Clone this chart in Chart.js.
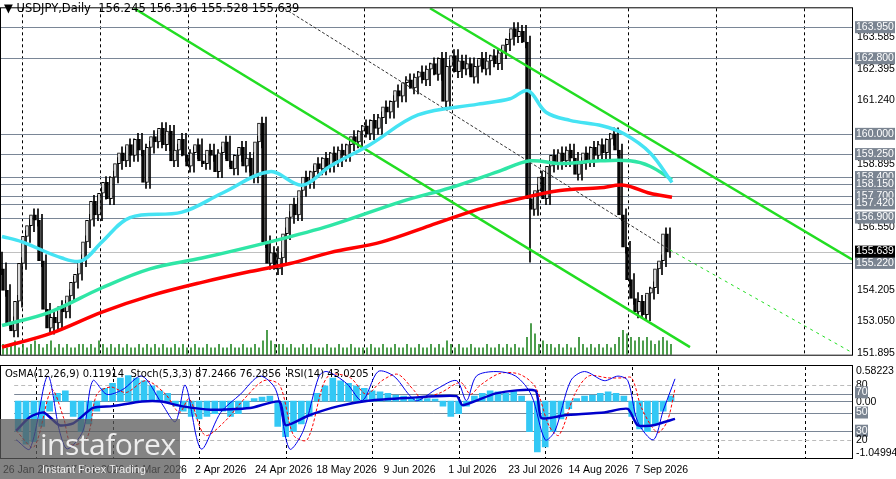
<!DOCTYPE html>
<html>
<head>
<meta charset="utf-8">
<script src="https://cdn.jsdelivr.net/npm/chart.js@4/dist/chart.umd.min.js"></script>
<style>
  body { margin: 0; background: #fff; width: 896px; height: 479px; overflow: hidden; position: relative; font-family: "Liberation Sans", sans-serif; }
  canvas { position: absolute; left: 0; }
  #main { top: 0; }
  #sub { top: 363px; }
  #head { position: absolute; left: 4px; top: 1px; font-size: 11.5px; color: #000; font-family: "DejaVu Sans", sans-serif; }
  #sublbl { position: absolute; left: 5px; top: 368px; font-size: 10px; color: #000; font-family: "DejaVu Sans", sans-serif; }
  #wm { position: absolute; left: 0; top: 419px; width: 180px; height: 60px; background: rgba(90,90,90,0.75); color: #eee; }
  #wm .a { position: absolute; left: 40px; top: 4px; font-size: 30px; font-family: "Open Sans", sans-serif; letter-spacing: -0.5px; }
  #wm .b { position: absolute; left: 42px; top: 44px; font-size: 11px; }
</style>
</head>
<body>
<canvas id="main" width="896" height="363"></canvas>
<canvas id="sub" width="896" height="116"></canvas>
<div id="head">&#9660; USDJPY,Daily &nbsp;156.245 156.316 155.528 155.639</div>
<div id="sublbl">OsMA(12,26,9) 0.11914 &nbsp;Stoch(5,3,3) 87.2466 76.2856 &nbsp;RSI(14) 43.0205</div>
<div id="wm"><span class="a">instaforex</span><span class="b">Instant Forex Trading</span></div>
<script>
// closes, one per daily bar
const closes = [
  155.0,154.2,153.0,152.7,153.8,155.2,156.2,156.6,157.0,156.8,
  155.3,153.5,152.8,153.2,153.0,153.6,153.4,154.0,154.5,154.8,
  155.3,156.0,156.8,157.5,157.0,157.8,158.2,157.6,158.4,158.9,
  159.3,159.0,159.6,159.2,159.8,159.4,158.2,159.5,159.9,159.7,
  160.2,159.6,160.1,159.0,159.4,159.8,159.2,158.8,159.3,159.6,
  159.0,158.9,159.4,159.2,158.6,159.3,159.7,159.0,158.7,159.2,
  159.5,158.8,159.1,158.4,159.7,160.4,156.0,155.2,155.6,155.0,
  155.4,156.3,156.9,157.4,157.0,157.9,158.4,158.2,158.6,158.9,
  158.7,159.1,158.8,159.3,159.0,159.4,159.2,159.6,159.9,159.7,
  160.1,160.3,160.0,160.5,160.2,160.6,161.0,160.8,161.2,161.6,
  161.4,161.9,162.0,161.7,162.1,162.3,162.0,162.4,162.6,162.2,
  162.8,161.2,162.5,162.9,162.3,162.7,162.4,162.6,162.1,162.5,
  162.8,162.4,162.7,162.9,162.6,163.0,163.3,163.5,163.9,163.6,
  163.8,163.4,157.6,157.2,157.9,158.4,157.6,158.8,159.2,158.9,
  159.3,159.0,159.4,159.1,158.5,158.9,159.3,159.0,159.5,159.2,
  159.6,159.3,159.8,160.0,159.4,157.0,155.8,154.6,153.9,153.4,
  153.8,153.3,154.1,154.3,155.0,155.3,156.3,155.64
];
const firstOpen = 155.4;
const volumes = [
  3,2,3,4,2,3,2,3,4,3, 2,3,4,2,3,2,3,2,2,3, 3,2,3,2,4,3,2,3,2,3,
  2,3,2,2,3,2,3,2,3,2, 3,2,2,3,2,3,2,2,3,2, 2,3,2,2,3,2,2,3,2,2,
  3,2,2,3,2,4,7,4,3,3, 3,2,3,2,2,3,2,3,2,2, 2,3,2,2,3,2,2,3,2,2,
  2,2,3,2,2,3,2,2,3,2, 2,3,2,2,3,2,2,3,2,3, 2,4,3,2,3,2,2,3,2,2,
  2,3,2,2,3,2,3,2,3,2, 2,5,9,6,3,4,3,3,2,3, 2,3,2,2,5,3,2,3,2,3,
  2,3,2,3,5,7,6,5,4,5, 4,5,4,3,4,5,4,3
];
// moving averages as [bar index, price]
const maCyan = [[0,156.2],[5,156.0],[15,155.4],[20,155.3],[25,156.0],[32,156.9],[45,157.1],[55,157.8],[67,158.6],[75,158.1],[82,158.8],[92,159.6],[104,160.7],[119,161.1],[127,161.3],[131.5,161.6],[136,160.8],[142,160.5],[150,160.3],[155.5,160.0],[162,159.3],[167.5,158.2]];
const maGreen = [[0,152.9],[12,153.4],[25,154.3],[37,155.0],[50,155.4],[67,156.0],[82,156.6],[100,157.5],[112,158.0],[124,158.6],[132,159.0],[139.5,158.9],[149.5,159.0],[157,159.0],[162,158.8],[167.5,158.3]];
const maRed = [[0,152.1],[12,152.6],[25,153.4],[37,154.0],[50,154.5],[62,154.9],[72,155.2],[82,155.6],[95,156.0],[107,156.6],[119,157.2],[129.5,157.6],[139.5,157.9],[149.5,158.0],[155.5,158.1],[162,157.8],[167.5,157.65]];
// trend lines as [bar index, price] endpoints
const trendA = [[33,164.65],[172,152.1]];
const trendB = [[107,164.65],[212.5,155.35]];
const trendDash = [[70.5,164.65],[167,155.7]];
const trendDot = [[167,155.7],[212.5,151.9]];
const levels = [163.95,162.8,160.0,159.25,158.4,158.15,157.7,157.42,156.9,155.22];
const lastPrice = 155.639;
const priceTicks = [163.585,162.395,161.24,158.895,156.55,154.205,153.05,151.895];
const gridBars = [5,24.5,46.5,68.5,90.5,112.5,134.5,156.5,178.5,200.5];
const dateTicks = [4,20,36,52,68,84,100,116,132,148,164];
const dateLabels = ["26 Jan 2026","17 Feb 2026","11 Mar 2026","2 Apr 2026","24 Apr 2026","18 May 2026","9 Jun 2026","1 Jul 2026","23 Jul 2026","14 Aug 2026","7 Sep 2026"];
// lower panel: OsMA every 2 bars, stoch and RSI as [bar index, value]
const osma = [
  -0.6,-0.85,-0.8,-0.5,-0.2,0.15,0.2,-0.3,-0.6,-0.45,
  -0.2,0.25,0.35,0.45,0.5,0.45,0.4,0.3,0.2,0.15,
  -0.1,-0.2,-0.3,-0.35,-0.3,-0.25,-0.2,-0.3,-0.25,-0.15,
  0.05,0.08,0.1,-0.5,-0.7,-0.6,-0.45,-0.3,0.15,0.3,
  0.45,0.4,0.35,0.3,0.25,0.2,0.18,0.15,0.12,0.1,
  0.08,0.06,0.05,0.04,-0.1,-0.3,-0.25,-0.1,0.1,0.15,
  0.2,0.18,0.15,0.2,0.1,-0.6,-1.0,-0.9,-0.6,-0.35,
  -0.15,0.05,0.1,0.12,0.15,0.18,0.15,0.1,-0.3,-0.55,
  -0.6,-0.45,-0.2,0.1
];
const stochMain = [[0,20],[3.5,10],[8,90],[11,30],[13,10],[17,30],[19.5,85],[23,70],[27,75],[32,90],[37,60],[40.5,40],[43,80],[47,10],[52,50],[57,70],[62,90],[66,75],[69.5,10],[73,30],[77,90],[79,95],[84,82],[88,63],[92,95],[96,90],[100,69],[102,63],[107,76],[112,85],[114.5,63],[117,90],[122,95],[127,90],[131,69],[134.5,20],[137,30],[141,85],[144.5,95],[149.5,85],[153,90],[155.5,85],[158,40],[162,20],[164.5,52],[167.5,87]];
const stochSig = [[0,30],[4.5,12],[9,75],[12,45],[14,15],[18,22],[20.5,70],[24,78],[28,72],[33,85],[38,70],[41.5,50],[44,65],[48,25],[53,40],[58,65],[63,85],[67,80],[70.5,25],[74,20],[78,80],[80,92],[85,88],[89,70],[93,85],[97,92],[101,75],[103,66],[108,72],[113,83],[115.5,70],[118,80],[123,93],[128,92],[132,78],[135.5,35],[138,25],[142,70],[145.5,90],[150.5,88],[154,88],[156.5,88],[159,55],[163,28],[165.5,40],[167.5,76]];
const rsi = [[0,30],[3.5,45],[7,50],[11,36],[14.5,38],[19.5,55],[24.5,57],[32,62],[37,62],[42,57],[49.5,53],[59.5,55],[67,62],[68.5,36],[74.5,47],[82,57],[89.5,63],[99.5,66],[112,68],[113.5,58],[122,71],[132,74],[133.5,44],[139.5,47],[149.5,50],[155.5,54],[158,36],[162,36],[167.5,43]];

const axisFont = { family: "Liberation Sans", size: 10.5 };
const toXY = a => a.map(p => ({ x: p[0], y: p[1] }));

// candles: open is previous close
const bodies = [], wicks = [], bodyBg = [];
closes.forEach((c, i) => {
  const o = i === 0 ? firstOpen : closes[i - 1];
  bodies.push({ x: i, y: [o, c] });
  wicks.push({ x: i, y: [Math.min(o, c) - 0.22, Math.max(o, c) + 0.22] });
  bodyBg.push(c >= o ? "#ffffff" : "#000000");
});
// long lower wick on the crash day
wicks[132].y[0] = 155.25;

const vlines = {
  id: "vlines",
  beforeDatasetsDraw(ch) {
    const { ctx, chartArea: a, scales: { x } } = ch;
    ctx.save();
    ctx.strokeStyle = "#000"; ctx.lineWidth = 1; ctx.setLineDash([3, 3]);
    gridBars.forEach(b => {
      const px = Math.round(x.getPixelForValue(b)) + 0.5;
      ctx.beginPath(); ctx.moveTo(px, a.top); ctx.lineTo(px, a.bottom); ctx.stroke();
    });
    ctx.restore();
  }
};

const priceLevels = {
  id: "priceLevels",
  beforeDatasetsDraw(ch) {
    const { ctx, chartArea: a, scales: { y } } = ch;
    ctx.save();
    ctx.lineWidth = 1;
    levels.forEach(v => {
      const py = Math.round(y.getPixelForValue(v)) + 0.5;
      ctx.strokeStyle = "#7a8696";
      ctx.beginPath(); ctx.moveTo(a.left, py); ctx.lineTo(a.right, py); ctx.stroke();
    });
    const py = Math.round(y.getPixelForValue(lastPrice)) + 0.5;
    ctx.strokeStyle = "#c0c0c0";
    ctx.beginPath(); ctx.moveTo(a.left, py); ctx.lineTo(a.right, py); ctx.stroke();
    ctx.restore();
  },
  afterDraw(ch) {
    const { ctx, chartArea: a, scales: { y } } = ch;
    ctx.save();
    ctx.font = "10.5px 'Liberation Sans'";
    ctx.textBaseline = "middle";
    const box = (v, bg) => {
      const py = y.getPixelForValue(v);
      ctx.fillStyle = bg;
      ctx.fillRect(a.right + 3, py - 6, 40, 12);
      ctx.fillStyle = "#fff";
      ctx.fillText(v.toFixed(3), a.right + 4, py);
    };
    levels.forEach(v => box(v, "#7a8491"));
    box(lastPrice, "#000");
    ctx.strokeStyle = "#000";
    ctx.strokeRect(0.5, a.top - 0.5, a.right, a.bottom - a.top + 1);
    ctx.restore();
  }
};

const lineDs = (data, color, w, extra) => Object.assign({
  type: "line", data: toXY(data), borderColor: color, borderWidth: w,
  pointRadius: 0, tension: 0.35, yAxisID: "y", order: 1
}, extra || {});

new Chart(document.getElementById("main"), {
  type: "bar",
  data: {
    datasets: [
      lineDs(maCyan, "#45e3f3", 3.5),
      lineDs(maGreen, "#2fe6a6", 3.5),
      lineDs(maRed, "#ff0000", 3.5),
      lineDs(trendA, "#22dd22", 2.5, { tension: 0 }),
      lineDs(trendB, "#22dd22", 2.5, { tension: 0 }),
      lineDs(trendDash, "#333", 1, { tension: 0, borderDash: [3, 2] }),
      lineDs(trendDot, "#22dd22", 1, { tension: 0, borderDash: [3, 4] }),
      { type: "bar", data: volumes.map((v, i) => ({ x: i, y: v })), backgroundColor: "#2a8a2a", barThickness: 1, yAxisID: "vol", order: 5 },
      { type: "bar", data: wicks, backgroundColor: "#000", barThickness: 1, yAxisID: "y", order: 3 },
      { type: "bar", data: bodies, backgroundColor: bodyBg, borderColor: "#000", borderWidth: 1, borderSkipped: false, barThickness: 3, yAxisID: "y", order: 2 }
    ]
  },
  options: {
    animation: false, responsive: false, maintainAspectRatio: false,
    layout: { padding: { top: 1, bottom: 0, left: 0, right: 0 } },
    plugins: { legend: { display: false }, tooltip: { enabled: false } },
    scales: {
      x: { type: "linear", min: -0.5, max: 212.5, display: false, offset: false },
      y: {
        position: "right", min: 151.82, max: 164.65,
        afterFit: s => { s.width = 44; },
        afterBuildTicks: s => { s.ticks = priceTicks.map(v => ({ value: v })); },
        ticks: { color: "#000", font: axisFont, padding: 2, callback: v => v.toFixed(3) },
        grid: { display: false, drawTicks: true, tickLength: 3 },
        border: { color: "#000" }
      },
      vol: { display: false, min: 0, max: 100 }
    }
  },
  plugins: [vlines, priceLevels]
});

const subLines = {
  id: "subLines",
  beforeDatasetsDraw(ch) {
    const { ctx, chartArea: a, scales: { y } } = ch;
    ctx.save();
    ctx.lineWidth = 1;
    [80, 20].forEach(v => {
      const py = Math.round(y.getPixelForValue(v)) + 0.5;
      ctx.strokeStyle = "#bbb"; ctx.setLineDash([4, 3]);
      ctx.beginPath(); ctx.moveTo(a.left, py); ctx.lineTo(a.right, py); ctx.stroke();
    });
    ctx.setLineDash([]);
    [70, 50, 30].forEach(v => {
      const py = Math.round(y.getPixelForValue(v)) + 0.5;
      ctx.strokeStyle = "#7a8696";
      ctx.beginPath(); ctx.moveTo(a.left, py); ctx.lineTo(a.right, py); ctx.stroke();
    });
    const pz = Math.round(ch.scales.os.getPixelForValue(0)) + 0.5;
    ctx.strokeStyle = "#7a8696";
    ctx.beginPath(); ctx.moveTo(a.left, pz); ctx.lineTo(a.right, pz); ctx.stroke();
    ctx.restore();
  },
  afterDraw(ch) {
    const { ctx, chartArea: a, scales: { y, os } } = ch;
    ctx.save();
    ctx.font = "10.5px 'Liberation Sans'";
    ctx.textBaseline = "middle";
    const txt = (t, py, bg) => {
      if (bg) { ctx.fillStyle = bg; ctx.fillRect(a.right + 3, py - 6, 13, 12); ctx.fillStyle = "#fff"; }
      else ctx.fillStyle = "#000";
      ctx.fillText(t, a.right + 4, py);
    };
    txt("0.58223", a.top + 4);
    txt("80", y.getPixelForValue(80));
    txt("0.00", os.getPixelForValue(0) + 1);
    txt("70", y.getPixelForValue(70) - 2, "#7a8491");
    txt("50", y.getPixelForValue(50), "#7a8491");
    txt("30", y.getPixelForValue(30), "#7a8491");
    txt("20", y.getPixelForValue(20));
    txt("-1.04994", a.bottom - 5);
    ctx.strokeStyle = "#000";
    ctx.strokeRect(0.5, a.top - 1.5, a.right, a.bottom - a.top + 2);
    ctx.restore();
  }
};

new Chart(document.getElementById("sub"), {
  type: "bar",
  data: {
    datasets: [
      { type: "bar", data: osma.map((v, g) => ({ x: g * 2 + 0.5, y: v })), backgroundColor: "#33c8f5", barThickness: 6, yAxisID: "os", order: 4 },
      { type: "line", data: toXY(stochSig), borderColor: "#ff0000", borderWidth: 1, borderDash: [3, 2], pointRadius: 0, tension: 0.3, yAxisID: "y", order: 2 },
      { type: "line", data: toXY(stochMain), borderColor: "#0000ee", borderWidth: 1, pointRadius: 0, tension: 0.3, yAxisID: "y", order: 1 },
      { type: "line", data: toXY(rsi), borderColor: "#0000cc", borderWidth: 2.5, pointRadius: 0, tension: 0.2, yAxisID: "y", order: 0 }
    ]
  },
  options: {
    animation: false, responsive: false, maintainAspectRatio: false,
    layout: { padding: { top: 4, bottom: 0, left: 0, right: 0 } },
    plugins: { legend: { display: false }, tooltip: { enabled: false } },
    scales: {
      x: {
        type: "linear", min: -0.5, max: 212.5, offset: false,
        afterBuildTicks: s => { s.ticks = dateTicks.map(v => ({ value: v })); },
        afterFit: s => { s.height = 21; },
        ticks: { color: "#000", font: axisFont, maxRotation: 0, autoSkip: false, padding: 3,
                 callback: v => dateLabels[dateTicks.indexOf(v)] },
        grid: { display: false, drawTicks: true, tickLength: 3 },
        border: { color: "#000" }
      },
      y: { position: "right", min: 0, max: 100, afterFit: s => { s.width = 44; }, ticks: { display: false }, grid: { display: false }, border: { display: false } },
      os: { display: false, min: -1.12, max: 0.67 }
    }
  },
  plugins: [vlines, subLines]
});
</script>
</body>
</html>
